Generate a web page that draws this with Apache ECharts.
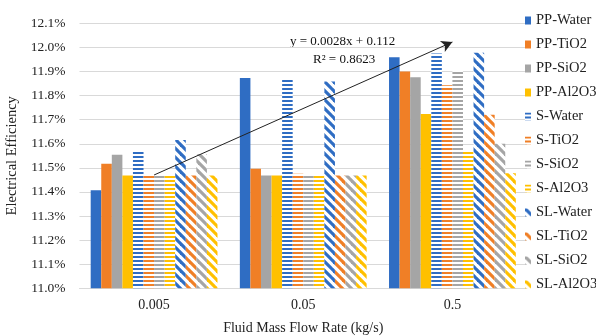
<!DOCTYPE html>
<html>
<head>
<meta charset="utf-8">
<script src="https://cdn.jsdelivr.net/npm/echarts@6/dist/echarts.min.js"></script>
<style>
  html, body { margin: 0; padding: 0; background: #fff; }
  #chart { width: 596px; height: 336px; }
</style>
</head>
<body>
<div id="chart"></div>
<script>
// Flow rates on the x axis (kg/s)
const flowRates = ['0.005', '0.05', '0.5'];

// Electrical efficiency (%) per collector type and coolant
const ppWater = [11.407, 11.873, 11.959];
const ppTiO2  = [11.517, 11.496, 11.900];
const ppSiO2  = [11.554, 11.468, 11.876];
const ppAl2O3 = [11.468, 11.468, 11.724];
const sWater  = [11.567, 11.865, 11.975];
const sTiO2   = [11.472, 11.475, 11.843];
const sSiO2   = [11.468, 11.468, 11.903];
const sAl2O3  = [11.468, 11.468, 11.574];
const slWater = [11.616, 11.858, 11.978];
const slTiO2  = [11.468, 11.468, 11.720];
const slSiO2  = [11.556, 11.468, 11.600];
const slAl2O3 = [11.468, 11.468, 11.478];

const yTicks = { min: 11.0, max: 12.1, step: 0.1 };
const trendText = ['y = 0.0028x + 0.112', 'R\u00B2 = 0.8623'];

const BLUE = '#2F6DC3', ORANGE = '#F07F26', GRAY = '#A5A5A5', GOLD = '#FFC000';
const SERIF = '"Liberation Serif", "DejaVu Serif", serif';

// Horizontal stripe fill
function hStripe(color) {
  const c = document.createElement('canvas');
  c.width = 4; c.height = 4;
  const g = c.getContext('2d');
  g.fillStyle = '#fff'; g.fillRect(0, 0, 4, 4);
  g.fillStyle = color; g.fillRect(0, 0, 4, 2);
  return { image: c, repeat: 'repeat' };
}
// Diagonal "\" stripe fill
function dStripe(color) {
  const s = 9;
  const c = document.createElement('canvas');
  c.width = s; c.height = s;
  const g = c.getContext('2d');
  g.fillStyle = '#fff'; g.fillRect(0, 0, s, s);
  g.strokeStyle = color; g.lineWidth = 3.2;
  for (let k = -s; k <= s; k += s) {
    g.beginPath(); g.moveTo(k - 2, -2); g.lineTo(k + s + 2, s + 2); g.stroke();
  }
  return { image: c, repeat: 'repeat' };
}

// Least-squares line through the PP-Water points (x = 1..n)
function fitLine(vals) {
  const n = vals.length;
  const xs = vals.map((_, i) => i + 1);
  const mx = xs.reduce((a, b) => a + b, 0) / n;
  const my = vals.reduce((a, b) => a + b, 0) / n;
  let sxy = 0, sxx = 0;
  for (let i = 0; i < n; i++) { sxy += (xs[i] - mx) * (vals[i] - my); sxx += (xs[i] - mx) ** 2; }
  const b = sxy / sxx, a = my - b * mx;
  return x => a + b * x;
}
const trend = fitLine(ppWater);

const defs = [
  ['PP-Water', ppWater, BLUE], ['PP-TiO2', ppTiO2, ORANGE], ['PP-SiO2', ppSiO2, GRAY], ['PP-Al2O3', ppAl2O3, GOLD],
  ['S-Water', sWater, hStripe(BLUE)], ['S-TiO2', sTiO2, hStripe(ORANGE)], ['S-SiO2', sSiO2, hStripe(GRAY)], ['S-Al2O3', sAl2O3, hStripe(GOLD)],
  ['SL-Water', slWater, dStripe(BLUE)], ['SL-TiO2', slTiO2, dStripe(ORANGE)], ['SL-SiO2', slSiO2, dStripe(GRAY)], ['SL-Al2O3', slAl2O3, dStripe(GOLD)]
];

const series = defs.map(([name, data, color]) => ({
  name, type: 'bar', data,
  barGap: 0, barCategoryGap: '15%',
  itemStyle: { color },
  emphasis: { disabled: true },
  silent: true
}));

// Trend arrow for PP-Water, placed at the category centres
series.push({
  name: 'trend', type: 'line',
  data: flowRates.map(() => null),
  symbol: 'none', silent: true,
  lineStyle: { opacity: 0 },
  markLine: {
    silent: true,
    symbol: ['none', 'arrow'],
    symbolSize: [9, 11],
    label: { show: false },
    lineStyle: { color: '#222', width: 1, type: 'solid' },
    emphasis: { disabled: true },
    data: [[{ coord: [0, trend(1)] }, { coord: [flowRates.length - 1, trend(flowRates.length)] }]]
  }
});

const chart = echarts.init(document.getElementById('chart'), null, { renderer: 'canvas' });
chart.setOption({
  animation: false,
  backgroundColor: '#fff',
  textStyle: { fontFamily: SERIF },
  grid: { left: 79.5, right: 69, top: 23.3, bottom: 47.7, containLabel: false, outerBoundsMode: 'none' },
  legend: {
    orient: 'vertical', left: 525, top: 13, padding: 0,
    itemWidth: 6, itemHeight: 8, itemGap: 9,
    icon: 'rect',
    selectedMode: false,
    textStyle: { fontFamily: SERIF, fontSize: 14.5, color: '#222', lineHeight: 15 },
    data: defs.map(d => d[0])
  },
  xAxis: {
    type: 'category', data: flowRates,
    name: 'Fluid Mass Flow Rate (kg/s)', nameLocation: 'middle', nameGap: 33,
    nameTextStyle: { fontFamily: SERIF, fontSize: 14, color: '#222' },
    axisLine: { lineStyle: { color: '#D9D9D9', width: 1 } },
    axisTick: { show: false },
    axisLabel: { fontFamily: SERIF, fontSize: 14, color: '#222', margin: 10 }
  },
  yAxis: {
    type: 'value', min: yTicks.min, max: yTicks.max, interval: yTicks.step,
    name: 'Electrical Efficiency', nameLocation: 'middle', nameGap: 59,
    nameTextStyle: { fontFamily: SERIF, fontSize: 14.5, color: '#222' },
    axisLine: { show: false }, axisTick: { show: false },
    axisLabel: { fontFamily: SERIF, fontSize: 13.5, color: '#222', margin: 14, formatter: v => v.toFixed(1) + '%' },
    splitLine: { lineStyle: { color: '#D9D9D9', width: 1 } }
  },
  graphic: [
    { type: 'text', left: 290, top: 35, style: { text: trendText[0], font: '13px ' + SERIF, fill: '#111' } },
    { type: 'text', left: 313, top: 53, style: { text: trendText[1], font: '13px ' + SERIF, fill: '#111' } }
  ],
  series
});
</script>
</body>
</html>
